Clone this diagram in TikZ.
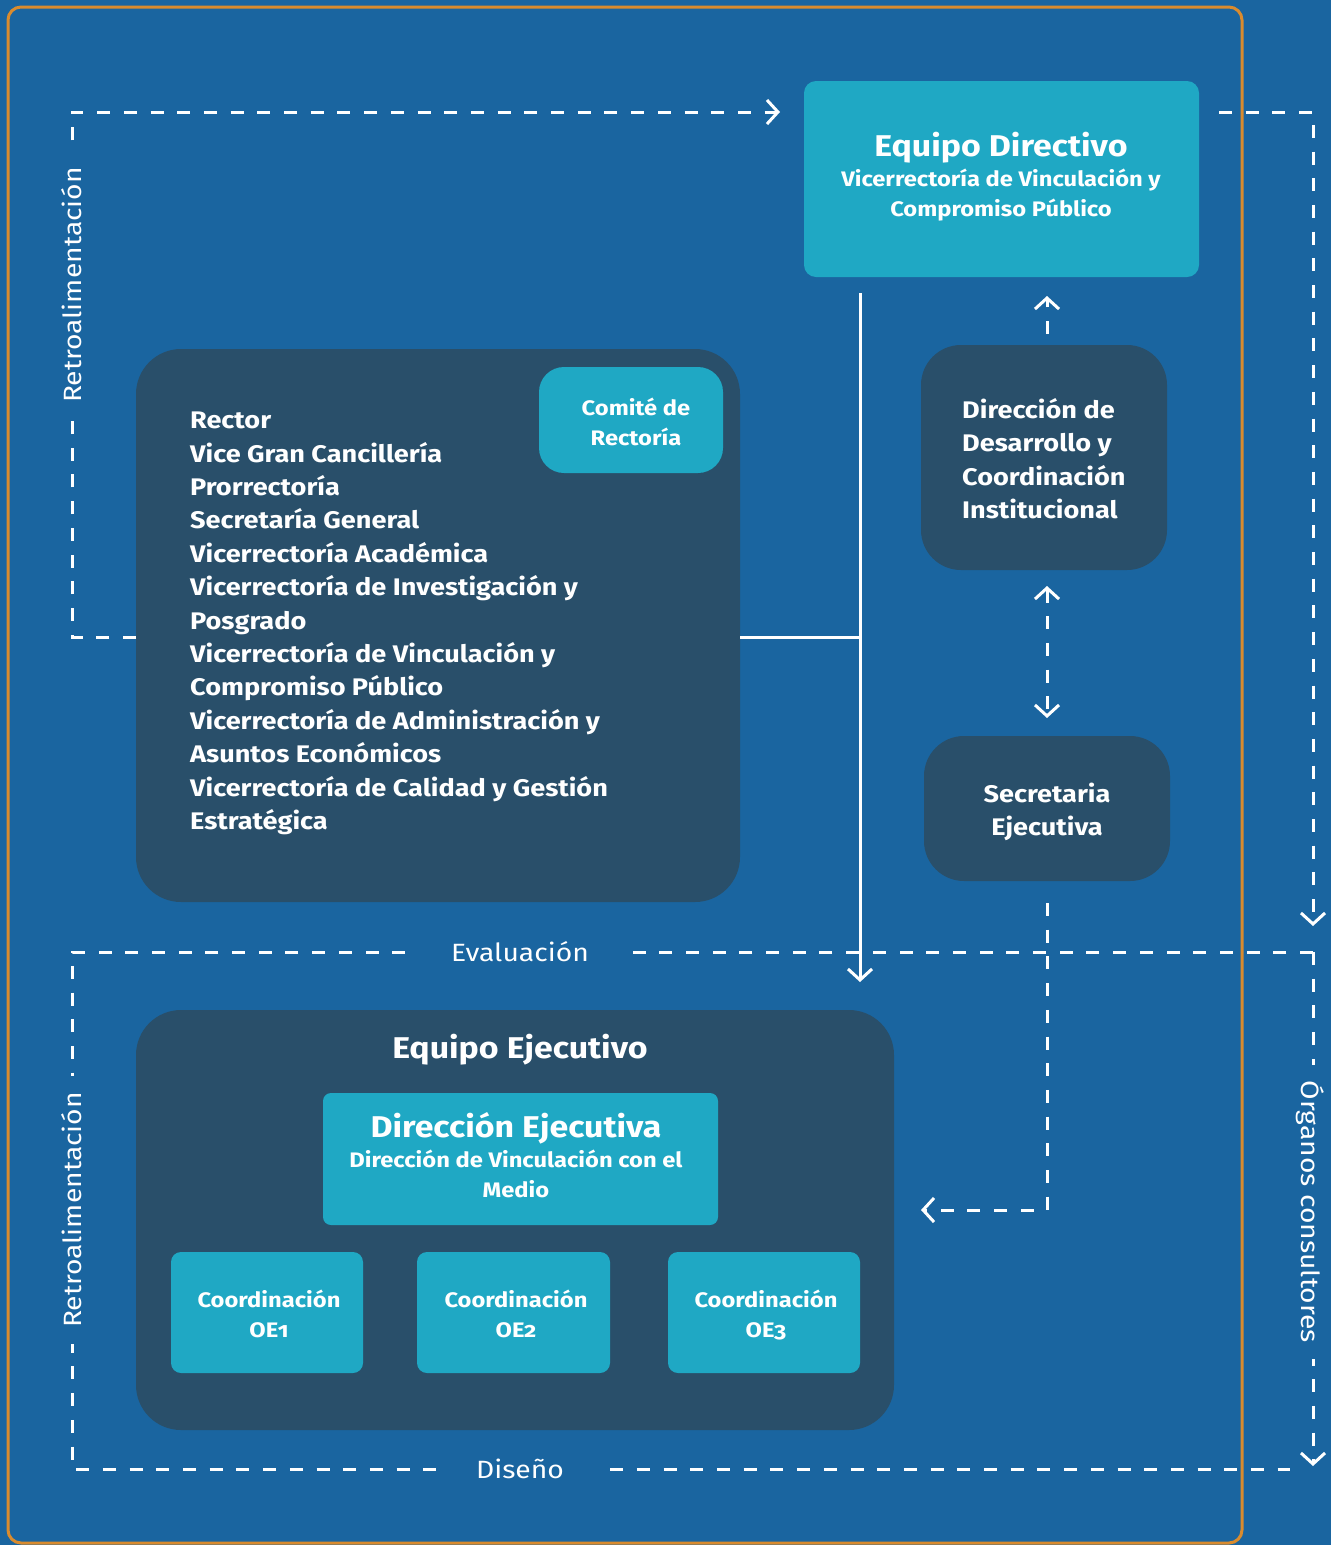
\documentclass[tikz,border=0pt]{standalone}
\usepackage{fontspec}
\setmainfont[FakeStretch=1.13]{Fira Sans}
\usetikzlibrary{arrows.meta}
\definecolor{bgblue}{RGB}{26,101,160}
\definecolor{darkbox}{RGB}{41,79,106}
\definecolor{tealbox}{RGB}{31,168,196}
\definecolor{orangeline}{RGB}{217,139,46}
\tikzset{
  box/.style={rectangle, anchor=north west, inner sep=0pt, outer sep=0pt},
  darkb/.style={box, fill=darkbox},
  tealb/.style={box, fill=tealbox},
  wtext/.style={text=white, inner sep=0pt, font=\bfseries, yshift=-6pt},
  wbig/.style={wtext, yshift=-2pt, font=\bfseries\fontsize{30}{36}\selectfont},
  wmid/.style={wtext, font=\bfseries\fontsize{24}{30}\selectfont},
  wsmall/.style={wtext, font=\bfseries\fontsize{21}{26}\selectfont},
  lbl/.style={text=white, fill=bgblue, font=\fontsize{25}{30}\selectfont},
  tip/.style={-{Straight Barb[length=11pt,width=24pt]}},
  dline/.style={white, line width=3pt, dash pattern=on 13pt off 13.7pt},
  sline/.style={white, line width=3pt},
}
\begin{document}
\begin{tikzpicture}[x=1pt,y=-1pt]
\useasboundingbox (0,0) rectangle (1331,1545);
\fill[bgblue] (0,0) rectangle (1331,1545);
\draw[orangeline, line width=3pt, rounded corners=13pt] (8,7) rectangle (1242,1543);

% boxes
\node[tealb, minimum width=395, minimum height=196, rounded corners=12pt] (dir) at (804,81) {};
\node[darkb, minimum width=604, minimum height=553, rounded corners=45pt] (board) at (136,349) {};
\node[tealb, minimum width=184, minimum height=106, rounded corners=25pt] (comite) at (539,367) {};
\node[darkb, minimum width=246, minimum height=225, rounded corners=40pt] (ddci) at (921,345) {};
\node[darkb, minimum width=246, minimum height=145, rounded corners=40pt] (secr) at (924,736) {};
\node[darkb, minimum width=758, minimum height=420, rounded corners=45pt] (ejec) at (136,1010) {};
\node[tealb, minimum width=395, minimum height=132, rounded corners=8pt] (dirE) at (323,1093) {};
\node[tealb, minimum width=192, minimum height=121, rounded corners=10pt] (oe1) at (171,1252) {};
\node[tealb, minimum width=193, minimum height=121, rounded corners=10pt] (oe2) at (417,1252) {};
\node[tealb, minimum width=192, minimum height=121, rounded corners=10pt] (oe3) at (668,1252) {};

% texts
\node[wbig, anchor=mid] (t1) at (1001,146) {Equipo Directivo};
\node[wsmall, anchor=mid] (t2) at (1001,178) {Vicerrectoría de Vinculación y};
\node[wsmall, anchor=mid] (t3) at (1001,208) {Compromiso Público};

\foreach \t [count=\i from 0] in {Rector, Vice Gran Cancillería, Prorrectoría, Secretaría General, Vicerrectoría Académica, Vicerrectoría de Investigación y, Posgrado, Vicerrectoría de Vinculación y, Compromiso Público, Vicerrectoría de Administración y, Asuntos Económicos, Vicerrectoría de Calidad y Gestión, Estratégica}
  \node[wmid, anchor=mid west] (li\i) at (190,420+\i*33.4) {\t};

\node[wsmall, anchor=mid] (c1) at (636,407) {Comité de};
\node[wsmall, anchor=mid] (c2) at (636,437) {Rectoría};

\foreach \t [count=\i from 0] in {Dirección de, Desarrollo y, Coordinación, Institucional}
  \node[wmid, anchor=mid west] (dd\i) at (962,410+\i*33.3) {\t};

\node[wmid, anchor=mid] (s1) at (1047,794) {Secretaria};
\node[wmid, anchor=mid] (s2) at (1047,827) {Ejecutiva};

\node[wbig, anchor=mid] (ee) at (520,1048) {Equipo Ejecutivo};
\node[wbig, anchor=mid] (de1) at (516,1127) {Dirección Ejecutiva};
\node[wsmall, anchor=mid] (de2) at (516,1159) {Dirección de Vinculación con el};
\node[wsmall, anchor=mid] (de3) at (516,1189) {Medio};

\foreach \n/\x in {1/269,2/516,3/766}{
  \node[wsmall, anchor=mid] (co\n) at (\x,1299) {Coordinación};
  \node[wsmall, anchor=mid, font=\bfseries\fontsize{21}{26}\selectfont\addfontfeatures{Numbers=OldStyle}] (oen\n) at (\x,1329) {OE\n};
}

% coordinates for connectors
\coordinate (a0) at (board.west |- 0,637);
\coordinate (a1) at (72,637);
\coordinate (a2) at (72,112);
\coordinate (a3) at (780,112);
\coordinate (b0) at (1219,112);
\coordinate (b1) at (1313,112);
\coordinate (b2) at (1313,926);
\coordinate (m0) at (860,293);
\coordinate (m1) at (860,982);
\coordinate (m2) at (board.east |- 0,637);
\coordinate (m3) at (860,637);
\coordinate (u0) at (1047,334);
\coordinate (u1) at (1047,296);
\coordinate (v0) at (1047,586);
\coordinate (v1) at (1047,718);
\coordinate (w0) at (1047,903);
\coordinate (w1) at (1047,1210);
\coordinate (w2) at (921,1210);
\coordinate (e0) at (1313,952);
\coordinate (e1) at (72,952);
\coordinate (e2) at (72,1469);
\coordinate (e3) at (1290,1469);
\coordinate (f1) at (1313,1466);

% connectors
\draw[sline, tip] (m0) -- (m1);
\draw[sline] (m2) -- (m3);
\draw[dline, tip] (a0) -- (a1) -- (a2) -- (a3);
\draw[dline, tip] (b0) -- (b1) -- (b2);
\draw[dline, tip] (u0) -- (u1);
\draw[dline, {Straight Barb[length=11pt,width=24pt]}-{Straight Barb[length=11pt,width=24pt]}] (v0) -- (v1);
\draw[dline, tip] (w0) -- (w1) -- (w2);
\draw[dline] (e0) -- (e1) -- (e2) -- (e3);
\draw[dline, tip] (e0) -- (f1);

% labels
\node[lbl, rotate=90, inner xsep=16pt, inner ysep=4pt] (r1) at (72,285) {Retroalimentación};
\node[lbl, rotate=90, inner xsep=16pt, inner ysep=4pt] (r2) at (72,1210) {Retroalimentación};
\node[lbl, rotate=-90, inner xsep=16pt, inner ysep=4pt] (oc) at (1310,1212) {Órganos consultores};
\node[lbl, inner xsep=35pt, inner ysep=4pt] (ev) at (520,952) {Evaluación};
\node[lbl, inner xsep=34pt, inner ysep=4pt] (ds) at (520,1469) {Diseño};
\end{tikzpicture}
\end{document}
